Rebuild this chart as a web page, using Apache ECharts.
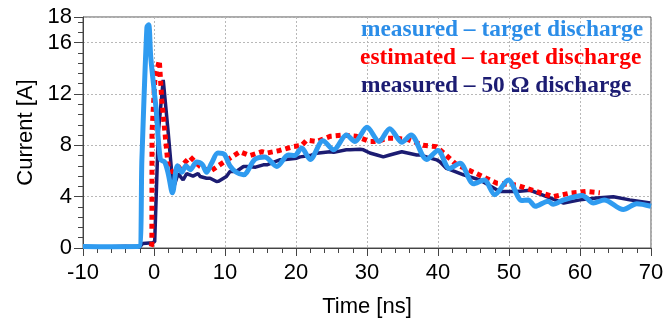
<!DOCTYPE html>
<html>
<head>
<meta charset="utf-8">
<script src="https://cdn.jsdelivr.net/npm/echarts@6/dist/echarts.min.js"></script>
<style>html,body{margin:0;padding:0;background:#fff}#c{width:665px;height:321px}</style>
</head>
<body>
<div id="c"></div>
<script>
// Time axis ticks
var xTicks = [-10, 0, 10, 20, 30, 40, 50, 60, 70];
var yTicks = [0, 4, 8, 12, 16, 18];

// measured – target discharge (light blue)
var blueTime = [-10, -6, -2.1, -1.7, -1.0, -0.75, -0.45, 0.3, 0.9, 1.5, 2.0, 2.6, 3.3, 3.9, 4.5, 5.1, 6.0, 6.8, 7.4, 8.1, 9.0, 9.9, 10.7, 11.6, 12.6, 14.2, 15.6, 17.3, 18.9, 19.8, 20.8, 22.0, 23.8, 25.3, 27.1, 28.3, 30.0, 31.7, 33.2, 34.9, 36.2, 38.4, 40.0, 41.6, 43.1, 45.0, 46.5, 48.0, 49.9, 51.8, 52.7, 53.7, 55.5, 56.2, 57.7, 60.3, 61.9, 63.4, 66.1, 68.0, 70];
var blueCurrent = [0.12, 0.1, 0.12, 7.0, 17.2, 17.4, 14.8, 10.8, 6.9, 6.7, 5.8, 4.3, 6.4, 5.9, 6.4, 6.1, 6.7, 6.5, 5.9, 6.6, 7.4, 7.3, 6.4, 5.9, 5.7, 6.9, 7.1, 6.35, 7.25, 7.2, 7.8, 6.9, 8.35, 7.65, 8.8, 8.3, 9.4, 8.3, 9.3, 8.25, 8.8, 6.9, 7.6, 6.2, 6.6, 5.0, 5.3, 4.15, 5.3, 3.7, 3.75, 3.25, 3.65, 3.4, 3.75, 4.1, 3.5, 3.75, 3.0, 3.45, 3.25];

// estimated – target discharge (red, dotted)
var redTime = [-0.4, -0.3, -0.28, 0.14, 0.75, 1.1, 1.55, 2.0, 2.6, 3.2, 3.9, 5.1, 6.0, 6.5, 7.9, 9.3, 10.7, 12.1, 13.5, 15.2, 15.9, 17.7, 19.6, 20.8, 21.5, 22.9, 24.8, 26.7, 28.5, 30.4, 31.5, 32.8, 34.2, 35.8, 37.9, 39.8, 41.2, 42.6, 45.4, 48.3, 51.1, 53.9, 56.2, 58.6, 60.9, 62.8];
var redCurrent = [0.1, 0.3, 9.0, 13.3, 14.6, 11.5, 8.95, 6.35, 5.9, 6.1, 6.4, 7.1, 6.6, 6.35, 5.96, 6.5, 7.0, 7.5, 7.2, 7.5, 7.4, 7.6, 7.9, 8.0, 8.4, 8.3, 8.7, 8.8, 8.7, 8.3, 8.3, 8.55, 8.55, 8.45, 8.0, 7.9, 7.2, 6.5, 5.8, 5.05, 4.9, 4.4, 4.0, 4.28, 4.4, 4.3];

// measured – 50 Ω discharge (navy)
var navyTime = [-10, -7, -4, -2, -1.6, -0.2, 0.1, 0.14, 0.6, 1.3, 2.0, 2.4, 2.7, 3.4, 4.1, 4.6, 5.5, 6.2, 6.5, 7.4, 7.9, 8.8, 9.1, 10.2, 10.7, 11.6, 12.6, 13.1, 14.3, 15.4, 15.9, 17.7, 18.2, 20.1, 20.6, 22.0, 22.9, 24.8, 25.3, 27.1, 27.6, 29.0, 29.5, 30.4, 31.4, 32.3, 33.2, 34.9, 35.1, 37.0, 37.5, 38.9, 39.8, 40.3, 41.2, 41.7, 43.6, 45.9, 48.7, 51.1, 53.0, 55.3, 57.7, 60.0, 62.3, 64.7, 67.0, 69.9];
var navyCurrent = [0.12, 0.08, 0.14, 0.1, 0.35, 0.4, 0.5, 0.6, 8.95, 13.1, 9.0, 6.5, 4.6, 5.8, 5.3, 5.8, 5.6, 5.8, 5.57, 5.44, 5.44, 5.18, 5.2, 5.57, 5.96, 5.96, 6.35, 6.35, 6.3, 6.48, 6.48, 6.87, 6.87, 7.0, 7.1, 7.2, 7.39, 7.5, 7.45, 7.65, 7.65, 7.7, 7.65, 7.4, 7.25, 7.1, 7.25, 7.5, 7.5, 7.25, 7.25, 7.0, 6.87, 6.7, 6.2, 6.1, 5.7, 5.3, 4.4, 4.4, 4.5, 4.0, 3.5, 3.75, 3.9, 4.0, 3.75, 3.5];

var seriesNames = ['measured \u2013 target discharge', 'estimated \u2013 target discharge', 'measured \u2013 50 \u03A9 discharge'];
var colBlue = '#2F9BF0', colRed = '#FF0000', colNavy = '#1C1C72';

function zip(a, b) { return a.map(function (v, i) { return [v, b[i]]; }); }

var chart = echarts.init(document.getElementById('c'), null, { renderer: 'canvas' });
var sans = "'Liberation Sans', Arial, sans-serif";
var serif = "'Liberation Serif', 'Times New Roman', serif";
var gridLine = { show: true, lineStyle: { color: '#b8b8b8', type: [2, 2], width: 1 } };

chart.setOption({
  animation: false,
  grid: { left: 83, right: 14, top: 17, bottom: 73, show: true, borderColor: '#555', borderWidth: 1, backgroundColor: 'transparent', outerBoundsMode: 'none', containLabel: false },
  xAxis: [{
    type: 'value', min: xTicks[0], max: xTicks[xTicks.length - 1], interval: 10,
    name: 'Time [ns]', nameLocation: 'middle', nameGap: 48,
    nameTextStyle: { fontFamily: sans, fontSize: 22, color: '#000' },
    axisLine: { onZero: false, lineStyle: { color: '#444', width: 1 } },
    axisTick: { show: true, inside: false, length: 8, lineStyle: { color: '#444' } },
    minorTick: { show: true, splitNumber: 5, length: 5, lineStyle: { color: '#444' } },
    axisLabel: { fontFamily: sans, fontSize: 22, color: '#000', margin: 14 },
    splitLine: gridLine
  }],
  yAxis: [{
    type: 'value', min: yTicks[0], max: yTicks[yTicks.length - 1], interval: 4,
    name: 'Current [A]', nameLocation: 'middle', nameGap: 45,
    nameTextStyle: { fontFamily: sans, fontSize: 22, color: '#000' },
    axisLine: { show: true, onZero: false, lineStyle: { color: '#444', width: 1 } },
    axisTick: { show: true, inside: false, length: 9, lineStyle: { color: '#444' } },
    axisLabel: { fontFamily: sans, fontSize: 22, color: '#000', margin: 11 },
    splitLine: gridLine
  }, {
    type: 'value', min: 0, max: 18, interval: 0.8, position: 'left',
    axisLine: { show: false, onZero: false },
    axisTick: { show: true, inside: false, length: 5, lineStyle: { color: '#444' } },
    axisLabel: { show: false },
    splitLine: { show: false }
  }],
  series: [{
    name: seriesNames[2], type: 'line', data: zip(navyTime, navyCurrent), showSymbol: false,
    lineStyle: { color: colNavy, width: 3.5 }, z: 2
  }, {
    name: seriesNames[1], type: 'line', data: zip(redTime, redCurrent), showSymbol: false,
    lineStyle: { color: colRed, width: 5, type: [5, 4], cap: 'butt' }, z: 3
  }, {
    name: seriesNames[0], type: 'line', data: zip(blueTime, blueCurrent), showSymbol: false, smooth: 0.3,
    lineStyle: { color: colBlue, width: 5 }, z: 4
  }],
  graphic: [
    { type: 'text', left: 361, top: 18, z: 10, style: { text: seriesNames[0], fill: '#2B8DE8', font: 'bold 23.4px ' + serif } },
    { type: 'text', left: 360, top: 46, z: 10, style: { text: seriesNames[1], fill: colRed, font: 'bold 23.4px ' + serif } },
    { type: 'text', left: 361, top: 74, z: 10, style: { text: seriesNames[2], fill: colNavy, font: 'bold 23.4px ' + serif } }
  ]
});
</script>
</body>
</html>
